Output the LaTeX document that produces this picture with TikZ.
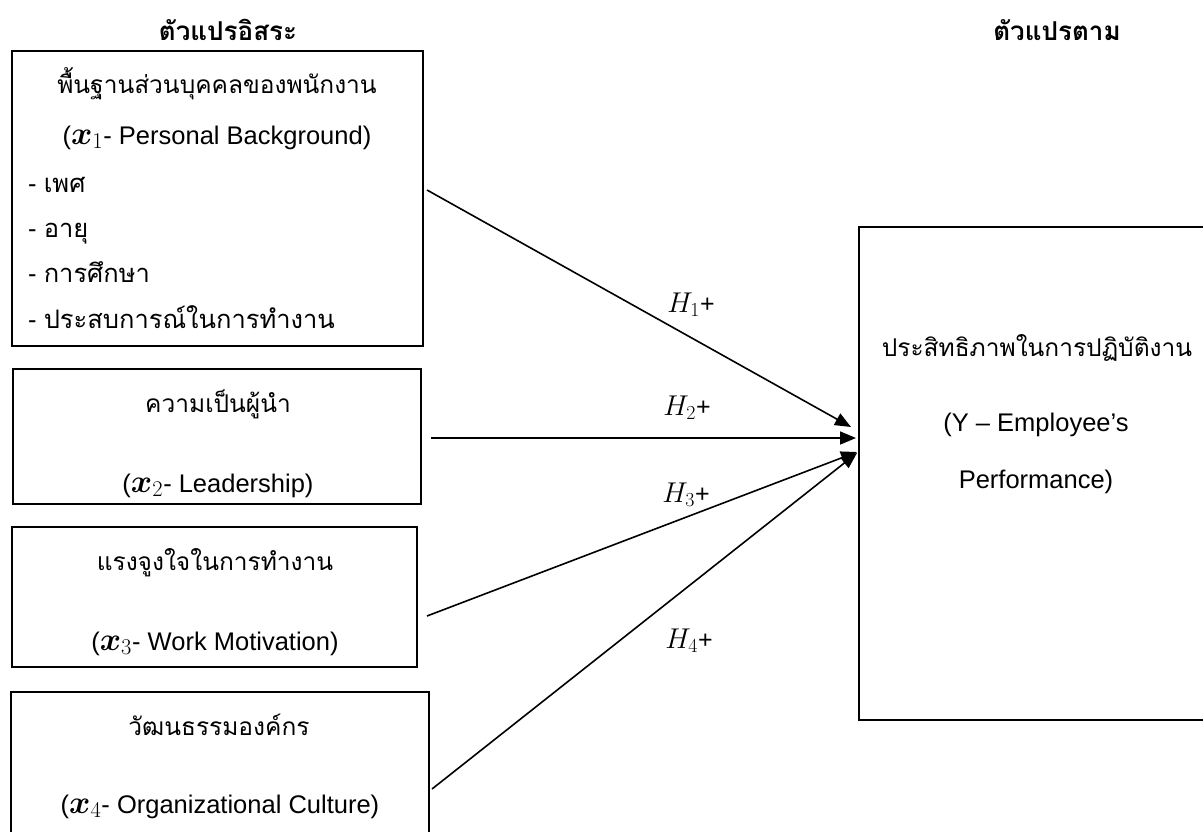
\documentclass[tikz,border=0pt]{standalone}
\usepackage{amsmath}
\usepackage{fontspec}
\setmainfont{Liberation Sans}
\newfontfamily\thai[Script=Thai]{Loma}
\usetikzlibrary{arrows.meta}
\newcommand{\xv}[1]{\scalebox{1.3}{$\boldsymbol{x}_{#1}$}}
\newcommand{\hv}[1]{\scalebox{1.15}{$H_{#1}$}}
\tikzset{
  box/.style={draw, line width=1.6pt, inner sep=0pt, outer sep=0pt},
  lat/.style={font=\fontsize{25.5}{28}\selectfont, inner sep=0pt},
  th/.style={font=\thai\fontsize{24.5}{28}\selectfont, inner sep=0pt},
  ttl/.style={font=\thai\bfseries\fontsize{26}{28}\selectfont, inner sep=0pt},
  hyp/.style={font=\fontsize{25}{30}\selectfont, inner sep=0pt, anchor=base},
  link/.style={line width=1.6pt, -{Triangle[length=16pt,width=13pt]}}
}
\begin{document}
\begin{tikzpicture}[x=1pt,y=-1pt]
\useasboundingbox (0,0) rectangle (1203,831);
\clip (0,0) rectangle (1203,831);
% titles
\node[ttl, anchor=base] (t1) at (228,40) {ตัวแปรอิสระ};
\node[ttl, anchor=base] (t2) at (1057,40) {ตัวแปรตาม};
% boxes
\node[box, minimum width=411pt, minimum height=295pt] (b1) at (217.5,198.5) {};
\node[box, minimum width=408pt, minimum height=135pt] (b2) at (217,436.5) {};
\node[box, minimum width=405pt, minimum height=140pt] (b3) at (214.5,597) {};
\node[box, minimum width=418pt, minimum height=168pt] (b4) at (220,776) {};
\node[box, minimum width=371pt, minimum height=493pt] (y) at (1044.5,473.5) {};
% box 1 text
\node[th, anchor=base] (b1a) at (217,93) {พื้นฐานส่วนบุคคลของพนักงาน};
\node[lat, anchor=base] (b1b) at (217,144) {(\xv{1}- Personal Background)};
\node[lat, anchor=base west] (b1c) at (28,192) {- {\thai เพศ}};
\node[lat, anchor=base west] (b1d) at (28,237) {- {\thai อายุ}};
\node[lat, anchor=base west] (b1e) at (28,282) {- {\thai การศึกษา}};
\node[lat, anchor=base west] (b1f) at (28,328) {- {\thai ประสบการณ์ในการทำงาน}};
% box 2 text
\node[th, anchor=base] (b2a) at (218,412) {ความเป็นผู้นำ};
\node[lat, anchor=base] (b2b) at (218,492) {(\xv{2}- Leadership)};
% box 3 text
\node[th, anchor=base] (b3a) at (215,570) {แรงจูงใจในการทำงาน};
\node[lat, anchor=base] (b3b) at (215,650) {(\xv{3}- Work Motivation)};
% box 4 text
\node[th, anchor=base] (b4a) at (219,735) {วัฒนธรรมองค์กร};
\node[lat, anchor=base] (b4b) at (220,813) {(\xv{4}- Organizational Culture)};
% Y text
\node[th, anchor=base] (ya) at (1037,356) {ประสิทธิภาพในการปฏิบัติงาน};
\node[lat, anchor=base] (yb) at (1036,431) {(Y – Employee’s};
\node[lat, anchor=base] (yc) at (1036,488) {Performance)};
% connector end points
\coordinate (s1) at (427,190);
\coordinate (s2) at (431,438);
\coordinate (s3) at (427,616);
\coordinate (s4) at (432,789);
\coordinate (e1) at (851,427);
\coordinate (e2) at (856,438);
\coordinate (e3) at (857,452);
\coordinate (e4) at (857,453);
\draw[link] (s1) -- (e1);
\draw[link] (s2) -- (e2);
\draw[link] (s3) -- (e3);
\draw[link] (s4) -- (e4);
% hypothesis labels
\node[hyp] (h1) at (691,312) {\hv{1}+};
\node[hyp] (h2) at (687,415) {\hv{2}+};
\node[hyp] (h3) at (686,502) {\hv{3}+};
\node[hyp] (h4) at (689,648) {\hv{4}+};
\end{tikzpicture}
\end{document}
